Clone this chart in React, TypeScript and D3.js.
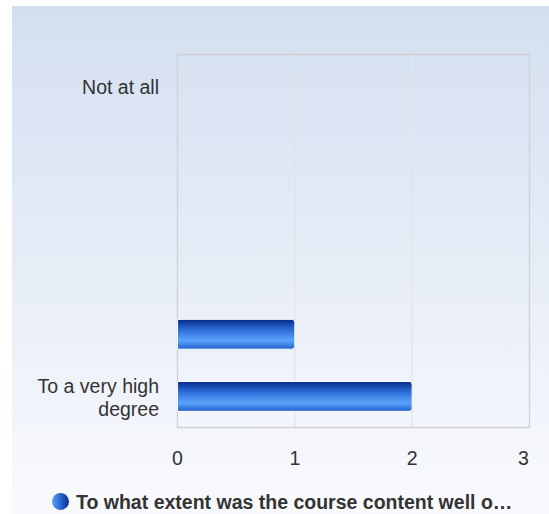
import React from "react";
import * as d3 from "d3";

const categories = ["Not at all", "", "", "", "", "To a very high degree"];
const values = [0, 0, 0, 0, 1, 2];
const xTicks = [0, 1, 2, 3];
const seriesName = "To what extent was the course content well o…";

const W = 549;
const H = 514;
const M = { left: 177.5, top: 54.5, right: 529.5, bottom: 427.5 };

export default function App() {
  const x = d3.scaleLinear().domain([0, 3]).range([M.left, M.right]);
  const y = d3.scaleBand<number>().domain(d3.range(categories.length)).range([M.top, M.bottom]);
  const bh = y.bandwidth() * 0.48;

  const wrap = (s: string) => {
    if (s === "To a very high degree") return ["To a very high", "degree"];
    return [s];
  };

  return (
    <svg width={W} height={H} style={{ position: "absolute", left: 0, top: 0 }} fontFamily="'Liberation Sans', Arial, sans-serif">
      <defs>
        <linearGradient id="bg" x1="0" y1="0" x2="0" y2="1">
          <stop offset="0" stopColor="#d3dff0" />
          <stop offset="1" stopColor="#f9fafd" />
        </linearGradient>
        <linearGradient id="bar" x1="0" y1="0" x2="0" y2="1">
          <stop offset="0" stopColor="#06298a" />
          <stop offset="0.35" stopColor="#2e6cd8" />
          <stop offset="0.72" stopColor="#5aa4fb" />
          <stop offset="1" stopColor="#1f5fcc" />
        </linearGradient>
        <linearGradient id="leg" x1="0" y1="0" x2="1" y2="0">
          <stop offset="0" stopColor="#5aa0f5" />
          <stop offset="0.5" stopColor="#2c66d0" />
          <stop offset="1" stopColor="#0c2d8e" />
        </linearGradient>
      </defs>
      <rect x={12} y={6} width={W - 12} height={H - 6} fill="url(#bg)" />
      {xTicks.slice(1, -1).map((t) => (
        <line key={t} x1={x(t)} x2={x(t)} y1={M.top} y2={M.bottom} stroke="#e2e4e8" strokeWidth={1.2} />
      ))}
      <rect x={M.left} y={M.top} width={M.right - M.left} height={M.bottom - M.top} fill="none" stroke="#cfd2d6" strokeWidth={1.4} />
      {values.map((v, i) =>
        v > 0 ? (
          <path
            key={i}
            d={(() => {
              const x0 = x(0), x1 = x(v), y0 = y(i)! + (y.bandwidth() - bh) / 2, y1 = y0 + bh, r = 3;
              return `M${x0},${y0}H${x1 - r}Q${x1},${y0} ${x1},${y0 + r}V${y1 - r}Q${x1},${y1} ${x1 - r},${y1}H${x0}Z`;
            })()}
            fill="url(#bar)"
            stroke="#ffffff"
            strokeWidth={1}
          />
        ) : null
      )}
      {categories.map((c, i) => {
        const lines = wrap(c);
        const cy = y(i)! + y.bandwidth() / 2;
        return (
          <text key={i} x={159} y={cy - ((lines.length - 1) * 23) / 2 + 1.5} textAnchor="end" fontSize={19.5} fill="#333333" dominantBaseline="central">
            {lines.map((l, j) => (
              <tspan key={j} x={159} dy={j === 0 ? 0 : 23}>
                {l}
              </tspan>
            ))}
          </text>
        );
      })}
      {xTicks.map((t) => (
        <text key={t} x={x(t) - (t === 3 ? 6 : 0)} y={465} textAnchor="middle" fontSize={19.5} fill="#333333">
          {t}
        </text>
      ))}
      <circle cx={60.5} cy={501.5} r={8.5} fill="url(#leg)" />
      <text x={76} y={508.5} fontSize={19.5} fontWeight="bold" fill="#333333">
        {seriesName}
      </text>
    </svg>
  );
}
